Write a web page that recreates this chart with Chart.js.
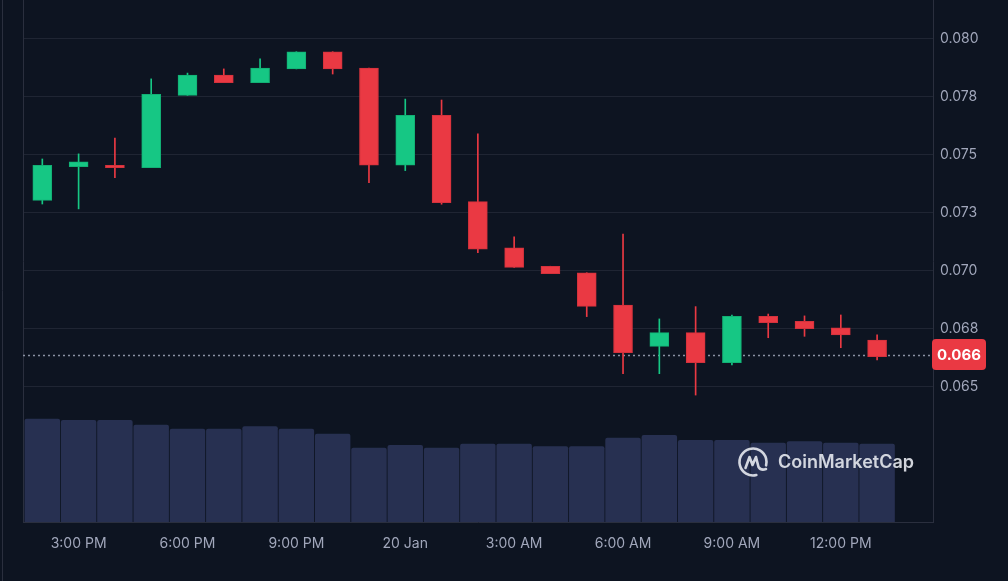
<!DOCTYPE html>
<html><head><meta charset="utf-8">
<script src="https://cdn.jsdelivr.net/npm/chart.js@4.4.1/dist/chart.umd.min.js"></script>
<style>html,body{margin:0;padding:0;background:#0d1421;}#wrap{width:1008px;height:581px;position:relative;}</style>
</head><body><div id="wrap"><canvas id="c"></canvas></div>
<script>
// ---- data ----
const hours = ['2:00 PM','3:00 PM','4:00 PM','5:00 PM','6:00 PM','7:00 PM','8:00 PM','9:00 PM','10:00 PM','11:00 PM',
  '12:00 AM','1:00 AM','2:00 AM','3:00 AM','4:00 AM','5:00 AM','6:00 AM','7:00 AM','8:00 AM','9:00 AM','10:00 AM','11:00 AM','12:00 PM','1:00 PM'];
const opens  = [0.07303,0.07448,0.07454,0.07444,0.07755,0.07842,0.07810,0.07869,0.07943,0.07873,0.07454,0.07669,0.07297,0.07098,0.07019,0.06991,0.06852,0.06674,0.06733,0.06603,0.06803,0.06782,0.06754,0.06701];
const highs  = [0.07481,0.07503,0.07571,0.07826,0.07851,0.07869,0.07912,0.07943,0.07943,0.07873,0.07739,0.07735,0.07589,0.07146,0.07019,0.06991,0.07158,0.06792,0.06845,0.06809,0.06813,0.06805,0.06809,0.06723];
const lows   = [0.07287,0.07266,0.07400,0.07444,0.07755,0.07810,0.07810,0.07869,0.07847,0.07379,0.07431,0.07286,0.07077,0.07014,0.06987,0.06802,0.06556,0.06556,0.06464,0.06594,0.06711,0.06717,0.06668,0.06615];
const closes = [0.07454,0.07469,0.07444,0.07760,0.07842,0.07810,0.07873,0.07943,0.07869,0.07454,0.07669,0.07293,0.07093,0.07014,0.06987,0.06846,0.06647,0.06733,0.06603,0.06803,0.06776,0.06750,0.06723,0.06629];
const volumes = [10.30,10.17,10.17,9.70,9.30,9.30,9.53,9.30,8.80,7.40,7.67,7.40,7.80,7.80,7.53,7.53,8.40,8.67,8.17,8.17,7.90,8.03,7.90,7.80];
const xTickPositions = [1,4,7,10,13,16,19,22];
const xTickLabels = ['3:00 PM','6:00 PM','9:00 PM','20 Jan','3:00 AM','6:00 AM','9:00 AM','12:00 PM'];
const priceTicks = [0.065,0.0675,0.07,0.0725,0.075,0.0775,0.08];
const priceTickLabels = ['0.065','0.068','0.070','0.073','0.075','0.078','0.080'];
const lastPrice = 0.06634;
const lastPriceLabel = '0.066';
const brandText = 'CoinMarketCap';

// ---- layout / style ----
const X_MIN = -0.532, X_MAX = 24.54;
const P_MIN = 0.0591715, P_MAX = 0.0816585;
const V_MAX = 52.2;
const GREEN = '#16c784', RED = '#ea3943';
const GRID = '#1f2533', BORDER = '#2a2f3e', TEXT = '#a1a7bb';
const FONT = 'Inter, "Noto Sans", sans-serif';

const isUp = i => closes[i] >= opens[i];
const colorsFill = hours.map((_, i) => isUp(i) ? GREEN : RED);
const colorsBorder = hours.map((_, i) => isUp(i) ? '#12b074' : '#d3323c');

const bodyData = hours.map((_, i) => ({x: i, y: [Math.min(opens[i], closes[i]), Math.max(opens[i], closes[i])]}));
const wickData = hours.map((_, i) => ({x: i, y: [lows[i], highs[i]]}));
const volData = hours.map((_, i) => ({x: i, y: volumes[i]}));

const zeroPad = ax => { ax.paddingTop = 0; ax.paddingBottom = 0; ax.paddingLeft = 0; ax.paddingRight = 0; };

const bgPlugin = {
  id: 'bg',
  beforeDraw(chart) {
    const ctx = chart.ctx;
    ctx.save();
    ctx.fillStyle = '#0d1421';
    ctx.fillRect(0, 0, chart.width, chart.height);
    ctx.strokeStyle = BORDER;
    ctx.lineWidth = 1;
    ctx.beginPath(); ctx.moveTo(2.5, 0); ctx.lineTo(2.5, chart.height); ctx.stroke();
    ctx.restore();
  }
};

const overlayPlugin = {
  id: 'overlay',
  afterDatasetsDraw(chart) {
    const ctx = chart.ctx;
    const ys = chart.scales.y;
    const ca = chart.chartArea;
    // watermark
    ctx.save();
    const cx = 753, cy = 462, r = 13.5;
    ctx.strokeStyle = 'rgba(226,229,236,0.92)';
    ctx.lineWidth = 2.6;
    ctx.lineCap = 'round'; ctx.lineJoin = 'round';
    ctx.beginPath();
    ctx.arc(cx, cy, r, 0.42 * Math.PI, 2.08 * Math.PI);
    ctx.stroke();
    ctx.beginPath();
    ctx.moveTo(cx - 7.5, cy + 6);
    ctx.lineTo(cx - 3.5, cy - 5);
    ctx.lineTo(cx - 0.5, cy + 3);
    ctx.lineTo(cx + 3, cy - 5);
    ctx.lineTo(cx + 5.5, cy + 5);
    ctx.quadraticCurveTo(cx + 8, cy + 9, cx + 13, cy + 7);
    ctx.stroke();
    ctx.fillStyle = 'rgba(226,229,236,0.92)';
    ctx.font = '600 18px ' + FONT;
    ctx.textBaseline = 'middle';
    ctx.textAlign = 'left';
    ctx.fillText(brandText, 778, 463);
    ctx.restore();

    // last price tag
    const y = ys.getPixelForValue(lastPrice);
    ctx.save();
    const bx = ca.right - 1, bw = 54, bh = 31;
    ctx.fillStyle = RED;
    ctx.beginPath();
    ctx.roundRect(bx, y - bh / 2 - 1, bw, bh, 4);
    ctx.fill();
    ctx.fillStyle = '#ffffff';
    ctx.font = 'bold 15px ' + FONT;
    ctx.textAlign = 'center';
    ctx.textBaseline = 'middle';
    ctx.fillText(lastPriceLabel, bx + bw / 2, y);
    ctx.restore();
  }
};

new Chart(document.getElementById('c'), {
  type: 'bar',
  data: {
    datasets: [
      {label: 'body', data: bodyData, backgroundColor: colorsFill, borderColor: colorsBorder, borderWidth: 1, borderSkipped: false,
       barThickness: 19, grouped: false, order: 1, yAxisID: 'y', xAxisID: 'x'},
      {label: 'wick', data: wickData, backgroundColor: colorsFill, borderWidth: 0,
       barThickness: 1, grouped: false, order: 2, yAxisID: 'y', xAxisID: 'x'},
      {type: 'line', label: 'last', data: [{x: X_MIN, y: lastPrice}, {x: X_MAX, y: lastPrice}],
       borderColor: '#8a91a3', borderWidth: 1.5, borderDash: [2, 3], pointRadius: 0, order: 3, yAxisID: 'y', xAxisID: 'x'},
      {label: 'volume', data: volData, backgroundColor: '#273051', borderWidth: 0, borderRadius: 2,
       barThickness: 34.8, grouped: false, order: 4, yAxisID: 'yVol', xAxisID: 'x'}
    ]
  },
  options: {
    responsive: true, maintainAspectRatio: false, animation: false, devicePixelRatio: 1,
    layout: {padding: 0},
    plugins: {legend: {display: false}, tooltip: {enabled: false}},
    scales: {
      x: {
        type: 'linear', min: X_MIN, max: X_MAX, offset: false,
        grid: {display: false, drawTicks: false},
        border: {display: true, color: BORDER},
        afterBuildTicks: ax => { ax.ticks = xTickPositions.map(v => ({value: v})); },
        ticks: {color: TEXT, font: {family: FONT, size: 14}, padding: 13, maxRotation: 0, autoSkip: false,
          callback: (v, i) => xTickLabels[i]},
        afterFit: ax => { ax.height = 59; zeroPad(ax); }
      },
      y: {
        type: 'linear', position: 'right', min: P_MIN, max: P_MAX,
        grid: {color: GRID, drawTicks: false},
        border: {display: true, color: BORDER},
        afterBuildTicks: ax => { ax.ticks = priceTicks.map(v => ({value: v})); },
        ticks: {color: TEXT, font: {family: FONT, size: 14}, padding: 7, callback: (v, i) => priceTickLabels[i]},
        afterFit: ax => { ax.width = 75; zeroPad(ax); }
      },
      yVol: {
        type: 'linear', position: 'left', min: 0, max: V_MAX,
        grid: {display: false, drawTicks: false},
        border: {display: true, color: BORDER},
        ticks: {display: false},
        afterFit: ax => { ax.width = 23; zeroPad(ax); }
      }
    }
  },
  plugins: [bgPlugin, overlayPlugin]
});
</script></body></html>
